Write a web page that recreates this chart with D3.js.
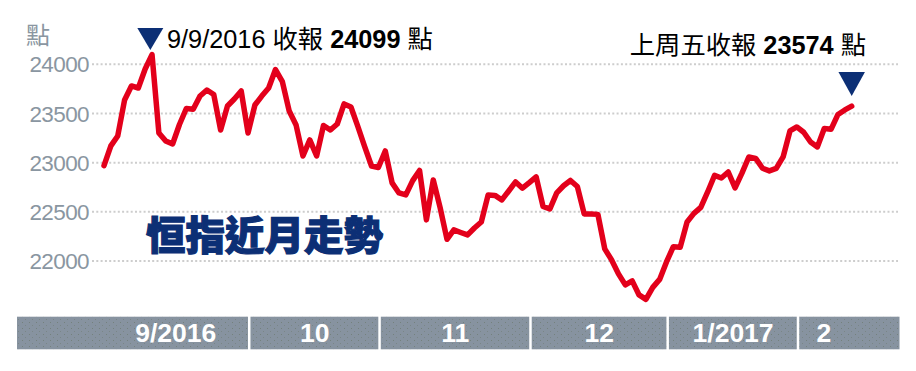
<!DOCTYPE html>
<html>
<head>
<meta charset="utf-8">
<script src="https://cdn.jsdelivr.net/npm/d3@7/dist/d3.min.js"></script>
<style>
    body{ margin:0; background:#fff; }
    svg{ display:block; }
</style>
</head>
<body>
<svg id="chart" width="916" height="371"></svg>
<script>
// Hang Seng Index daily closes, 31 Aug 2016 - 10 Feb 2017
const closes = [
    22970, 23170, 23271, 23637, 23780, 23759, 23952, 24099, 23302, 23220,
    23190, 23388, 23551, 23543, 23678, 23739, 23693, 23332, 23576, 23647,
    23729, 23302, 23586, 23677, 23759, 23947, 23825, 23525, 23383, 23068,
    23231, 23068, 23378, 23332, 23393, 23597, 23566, 23369, 23164, 22966,
    22951, 23119, 22794, 22692, 22672, 22817, 22921, 22418, 22824, 22543,
    22221, 22316, 22290, 22265, 22336, 22397, 22672, 22667, 22621, 22712,
    22804, 22740, 22796, 22855, 22555, 22529, 22692, 22765, 22819, 22758,
    22479, 22479, 22474, 22123, 22011, 21869, 21757, 21798, 21655, 21610,
    21732, 21813, 21991, 22146, 22140, 22397, 22484, 22545, 22702, 22870,
    22844, 22905, 22743, 22893, 23058, 23044, 22943, 22916, 22941, 23058,
    23322, 23363, 23309, 23210, 23160, 23348, 23340, 23490, 23536, 23574
];

// trading days per month band (first band also takes 31 Aug)
const monthLabels = ["9/2016", "10", "11", "12", "1/2017", "2"];
const monthDays = [22, 19, 22, 20, 19, 8];

const yTicks = [22000, 22500, 23000, 23500, 24000];
const unitLabel = "點";
const title = "恒指近月走勢";

const peakIndex = 7;
const peakNote = ["9/9/2016 收報 ", "24099", " 點"];
const lastNote = ["上周五收報 ", "23574", " 點"];

const LATIN = "'Liberation Sans', Arial, sans-serif";
const CJK = "'Liberation Sans', 'Noto Sans CJK TC', sans-serif";
const RED = "#e3001b";
const NAVY = "#0c2f75";
const SLATE = "#8793a0";

const svg = d3.select("#chart");

const x = d3.scaleLinear()
    .domain([0, closes.length - 1])
    .range([104, 851.7]);
const y = d3.scaleLinear()
    .domain([22000, 24000])
    .range([261, 64.3]);

// texture for the month band
const defs = svg.append("defs");
const pat = defs.append("pattern")
    .attr("id", "bandTex")
    .attr("patternUnits", "userSpaceOnUse")
    .attr("width", 7)
    .attr("height", 6);
pat.append("rect").attr("width", 7).attr("height", 6).attr("fill", SLATE);
pat.append("rect").attr("x", 1).attr("y", 4).attr("width", 1).attr("height", 1)
    .attr("fill", "#6d7a6e").attr("opacity", 0.7);
pat.append("rect").attr("x", 4).attr("y", 1).attr("width", 1).attr("height", 1)
    .attr("fill", "#6d7a6e").attr("opacity", 0.5);

// grid + y labels
const grid = svg.append("g");
grid.selectAll("line")
    .data(yTicks)
    .join("line")
        .attr("x1", 92)
        .attr("x2", 898)
        .attr("y1", d => y(d))
        .attr("y2", d => y(d))
        .attr("stroke", "#cdcdcd")
        .attr("stroke-width", 2)
        .attr("stroke-dasharray", "2,2.3");
grid.selectAll("text")
    .data(yTicks)
    .join("text")
        .attr("x", 89)
        .attr("y", d => y(d))
        .attr("dy", "0.36em")
        .attr("text-anchor", "end")
        .attr("font-family", LATIN)
        .attr("font-size", 22.5)
        .attr("letter-spacing", -0.6)
        .attr("fill", "#8a96a1")
        .text(d => d);

svg.append("text")
    .attr("x", 26)
    .attr("y", 44)
    .attr("font-family", "'Noto Sans CJK TC', sans-serif")
    .attr("font-size", 24)
    .attr("fill", "#8a96a1")
    .text(unitLabel);

// month band
let start = 0;
const bands = monthDays.map((n, i) => {
    const b = {label: monthLabels[i], first: start, last: start + n - 1};
    start += n;
    return b;
});
const bandLeft = b => b.first == 0 ? 17 : (x(b.first - 0.5) - 1);
const bandRight = b => b.last == closes.length - 1 ? 899.5 : (x(b.last + 0.5) - 3.5);
const band = svg.append("g");
band.selectAll("rect")
    .data(bands)
    .join("rect")
        .attr("x", d => bandLeft(d))
        .attr("y", 316.7)
        .attr("width", d => bandRight(d) - bandLeft(d))
        .attr("height", 32.6)
        .attr("fill", "url(#bandTex)");
band.selectAll("text")
    .data(bands)
    .join("text")
        .attr("x", d => (x(Math.max(d.first - 0.5, 0)) + x(Math.min(d.last + 0.5, closes.length - 1))) / 2 - 2)
        .attr("y", 341.5)
        .attr("text-anchor", "middle")
        .attr("font-family", LATIN)
        .attr("font-weight", "bold")
        .attr("font-size", 26.5)
        .attr("fill", "#fff")
        .text(d => d.label);

// title
svg.append("text")
    .attr("x", 146)
    .attr("y", 250)
    .attr("font-family", "'Noto Sans CJK TC', sans-serif")
    .attr("font-weight", 900)
    .attr("font-size", 39.5)
    .attr("fill", NAVY)
    .attr("stroke", NAVY)
    .attr("stroke-width", 1.2)
    .text(title);

// the index line
const line = d3.line()
    .x((d, i) => x(i))
    .y(d => y(d));
svg.append("path")
    .datum(closes)
    .attr("d", line)
    .attr("fill", "none")
    .attr("stroke", RED)
    .attr("stroke-width", 5.5)
    .attr("stroke-linejoin", "round")
    .attr("stroke-linecap", "round");

// down-pointing markers
function marker(cx, tipY, w, h){
    svg.append("path")
        .attr("d", `M${cx - w / 2},${tipY - h}L${cx + w / 2},${tipY - h}L${cx},${tipY}Z`)
        .attr("fill", NAVY);
}

function note(parts, tx, ty, anchor){
    const t = svg.append("text")
        .attr("x", tx)
        .attr("y", ty)
        .attr("text-anchor", anchor)
        .attr("font-family", CJK)
        .attr("font-size", 25.3)
        .attr("fill", "#000");
    parts.forEach((p, i) => {
        t.append("tspan")
            .attr("font-weight", i == 1 ? "bold" : "normal")
            .text(p);
    });
}

marker(x(peakIndex) - 1.7, 50, 26, 22);
note(peakNote, 167, 47.5, "start");

const lastIndex = closes.length - 1;
marker(x(lastIndex), 96, 26.5, 24);
note(lastNote, 866, 54, "end");
</script>
</body>
</html>
